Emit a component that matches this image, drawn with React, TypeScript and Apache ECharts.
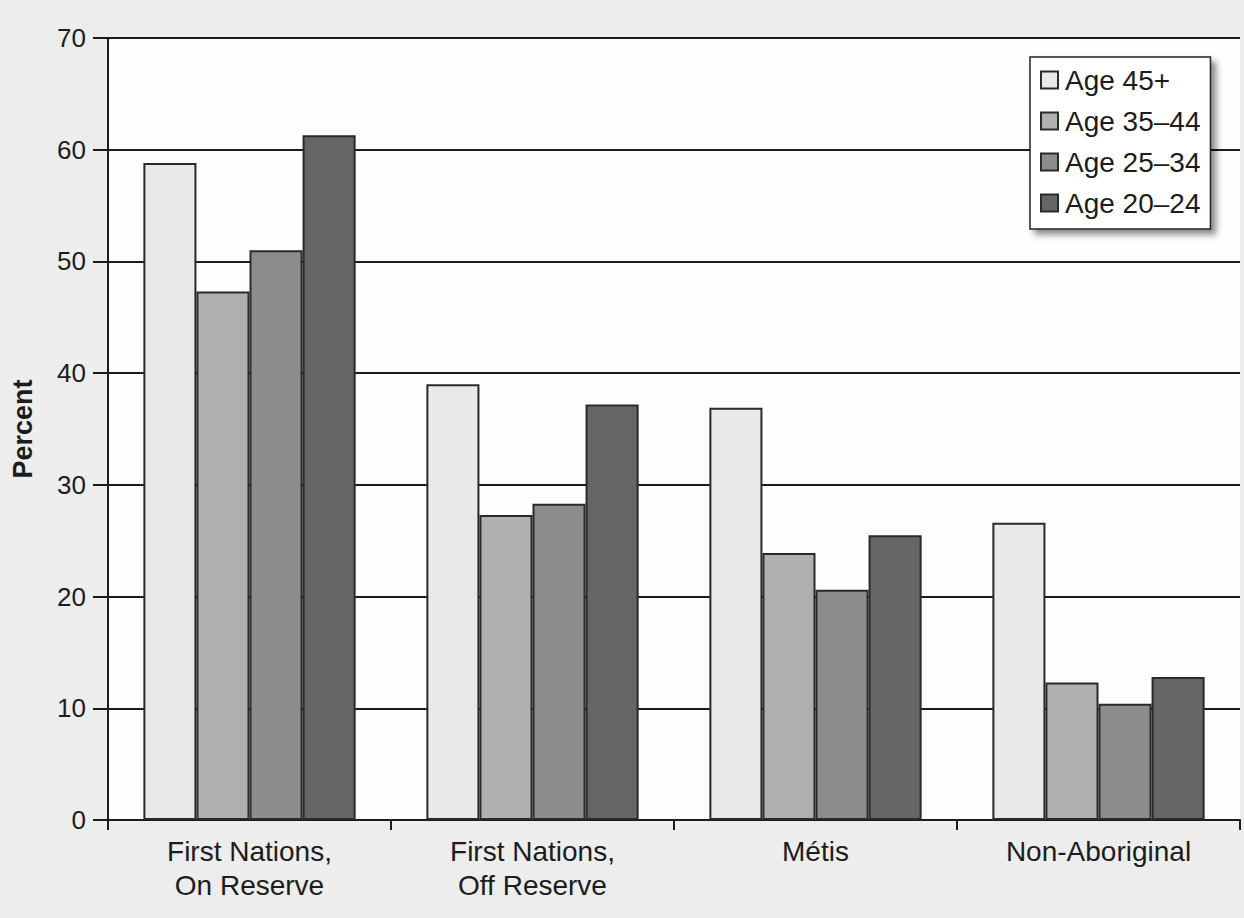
import React, { useEffect, useRef } from "react";
import * as echarts from "echarts";

const categories = ["First Nations,\nOn Reserve", "First Nations,\nOff Reserve", "Métis", "Non-Aboriginal"];
const seriesNames = ["Age 45+", "Age 35–44", "Age 25–34", "Age 20–24"];
const age45plus = [58.8, 39.0, 36.9, 26.6];
const age35to44 = [47.3, 27.3, 23.9, 12.3];
const age25to34 = [51.0, 28.3, 20.6, 10.4];
const age20to24 = [61.3, 37.2, 25.5, 12.8];
const seriesValues = [age45plus, age35to44, age25to34, age20to24];
const seriesColors = ["#e9e9e9", "#b0b0b0", "#8c8c8c", "#666666"];
const yTicks = { min: 0, max: 70, interval: 10 };

const FONT = "'Liberation Sans', Arial, Helvetica, sans-serif";
const INK = "#1c1c1c";

export default function App() {
  const ref = useRef<HTMLDivElement>(null);
  useEffect(() => {
    if (!ref.current) return;
    const chart = echarts.init(ref.current, null, { renderer: "svg" });
    chart.setOption({
      animation: false,
      backgroundColor: "#ededed",
      textStyle: { fontFamily: FONT, color: INK },
      grid: {
        left: 108,
        right: 4,
        top: 38,
        bottom: 98,
        show: true,
        backgroundColor: "#fdfdfd",
        borderWidth: 0,
        containLabel: false,
        outerBoundsMode: "none",
      },
      legend: {
        orient: "vertical",
        left: 1030,
        top: 57,
        padding: [9, 10, 12, 10],
        itemWidth: 17,
        itemHeight: 17,
        itemGap: 13,
        backgroundColor: "#ffffff",
        borderColor: "#222",
        borderWidth: 1.5,
        borderRadius: 0,
        shadowBlur: 6,
        shadowColor: "rgba(0,0,0,0.45)",
        shadowOffsetX: 5,
        shadowOffsetY: 5,
        icon: "rect",
        textStyle: { fontFamily: FONT, fontSize: 28, color: INK, lineHeight: 28, padding: [0, 0, 0, 2] },
        data: seriesNames,
      },
      xAxis: {
        type: "category",
        data: categories,
        axisLine: { show: true, lineStyle: { color: INK, width: 2 } },
        axisTick: { show: true, length: 10, interval: 0, lineStyle: { color: INK, width: 2 } },
        axisLabel: {
          interval: 0,
          margin: 14,
          fontFamily: FONT,
          fontSize: 28,
          lineHeight: 34,
          color: INK,
        },
        splitLine: { show: false },
      },
      yAxis: {
        type: "value",
        min: yTicks.min,
        max: yTicks.max,
        interval: yTicks.interval,
        name: "Percent",
        nameLocation: "middle",
        nameRotate: 90,
        nameGap: 72,
        nameTextStyle: { fontFamily: FONT, fontSize: 27, fontWeight: "bold", color: INK },
        axisLine: { show: true, lineStyle: { color: INK, width: 2 } },
        axisTick: { show: true, length: 15, lineStyle: { color: INK, width: 2 } },
        axisLabel: { margin: 22, fontFamily: FONT, fontSize: 26, color: INK },
        splitLine: { show: true, lineStyle: { color: INK, width: 1.8 } },
      },
      series: seriesNames.map((name, i) => ({
        name,
        type: "bar",
        data: seriesValues[i],
        barGap: "0%",
        barCategoryGap: "25%",
        itemStyle: { color: seriesColors[i], borderColor: "#2a2a2a", borderWidth: 2 },
      })),
    });
    return () => chart.dispose();
  }, []);
  return (
    <div
      ref={ref}
      style={{ position: "absolute", left: 0, top: 0, width: 1244, height: 918 }}
    />
  );
}
